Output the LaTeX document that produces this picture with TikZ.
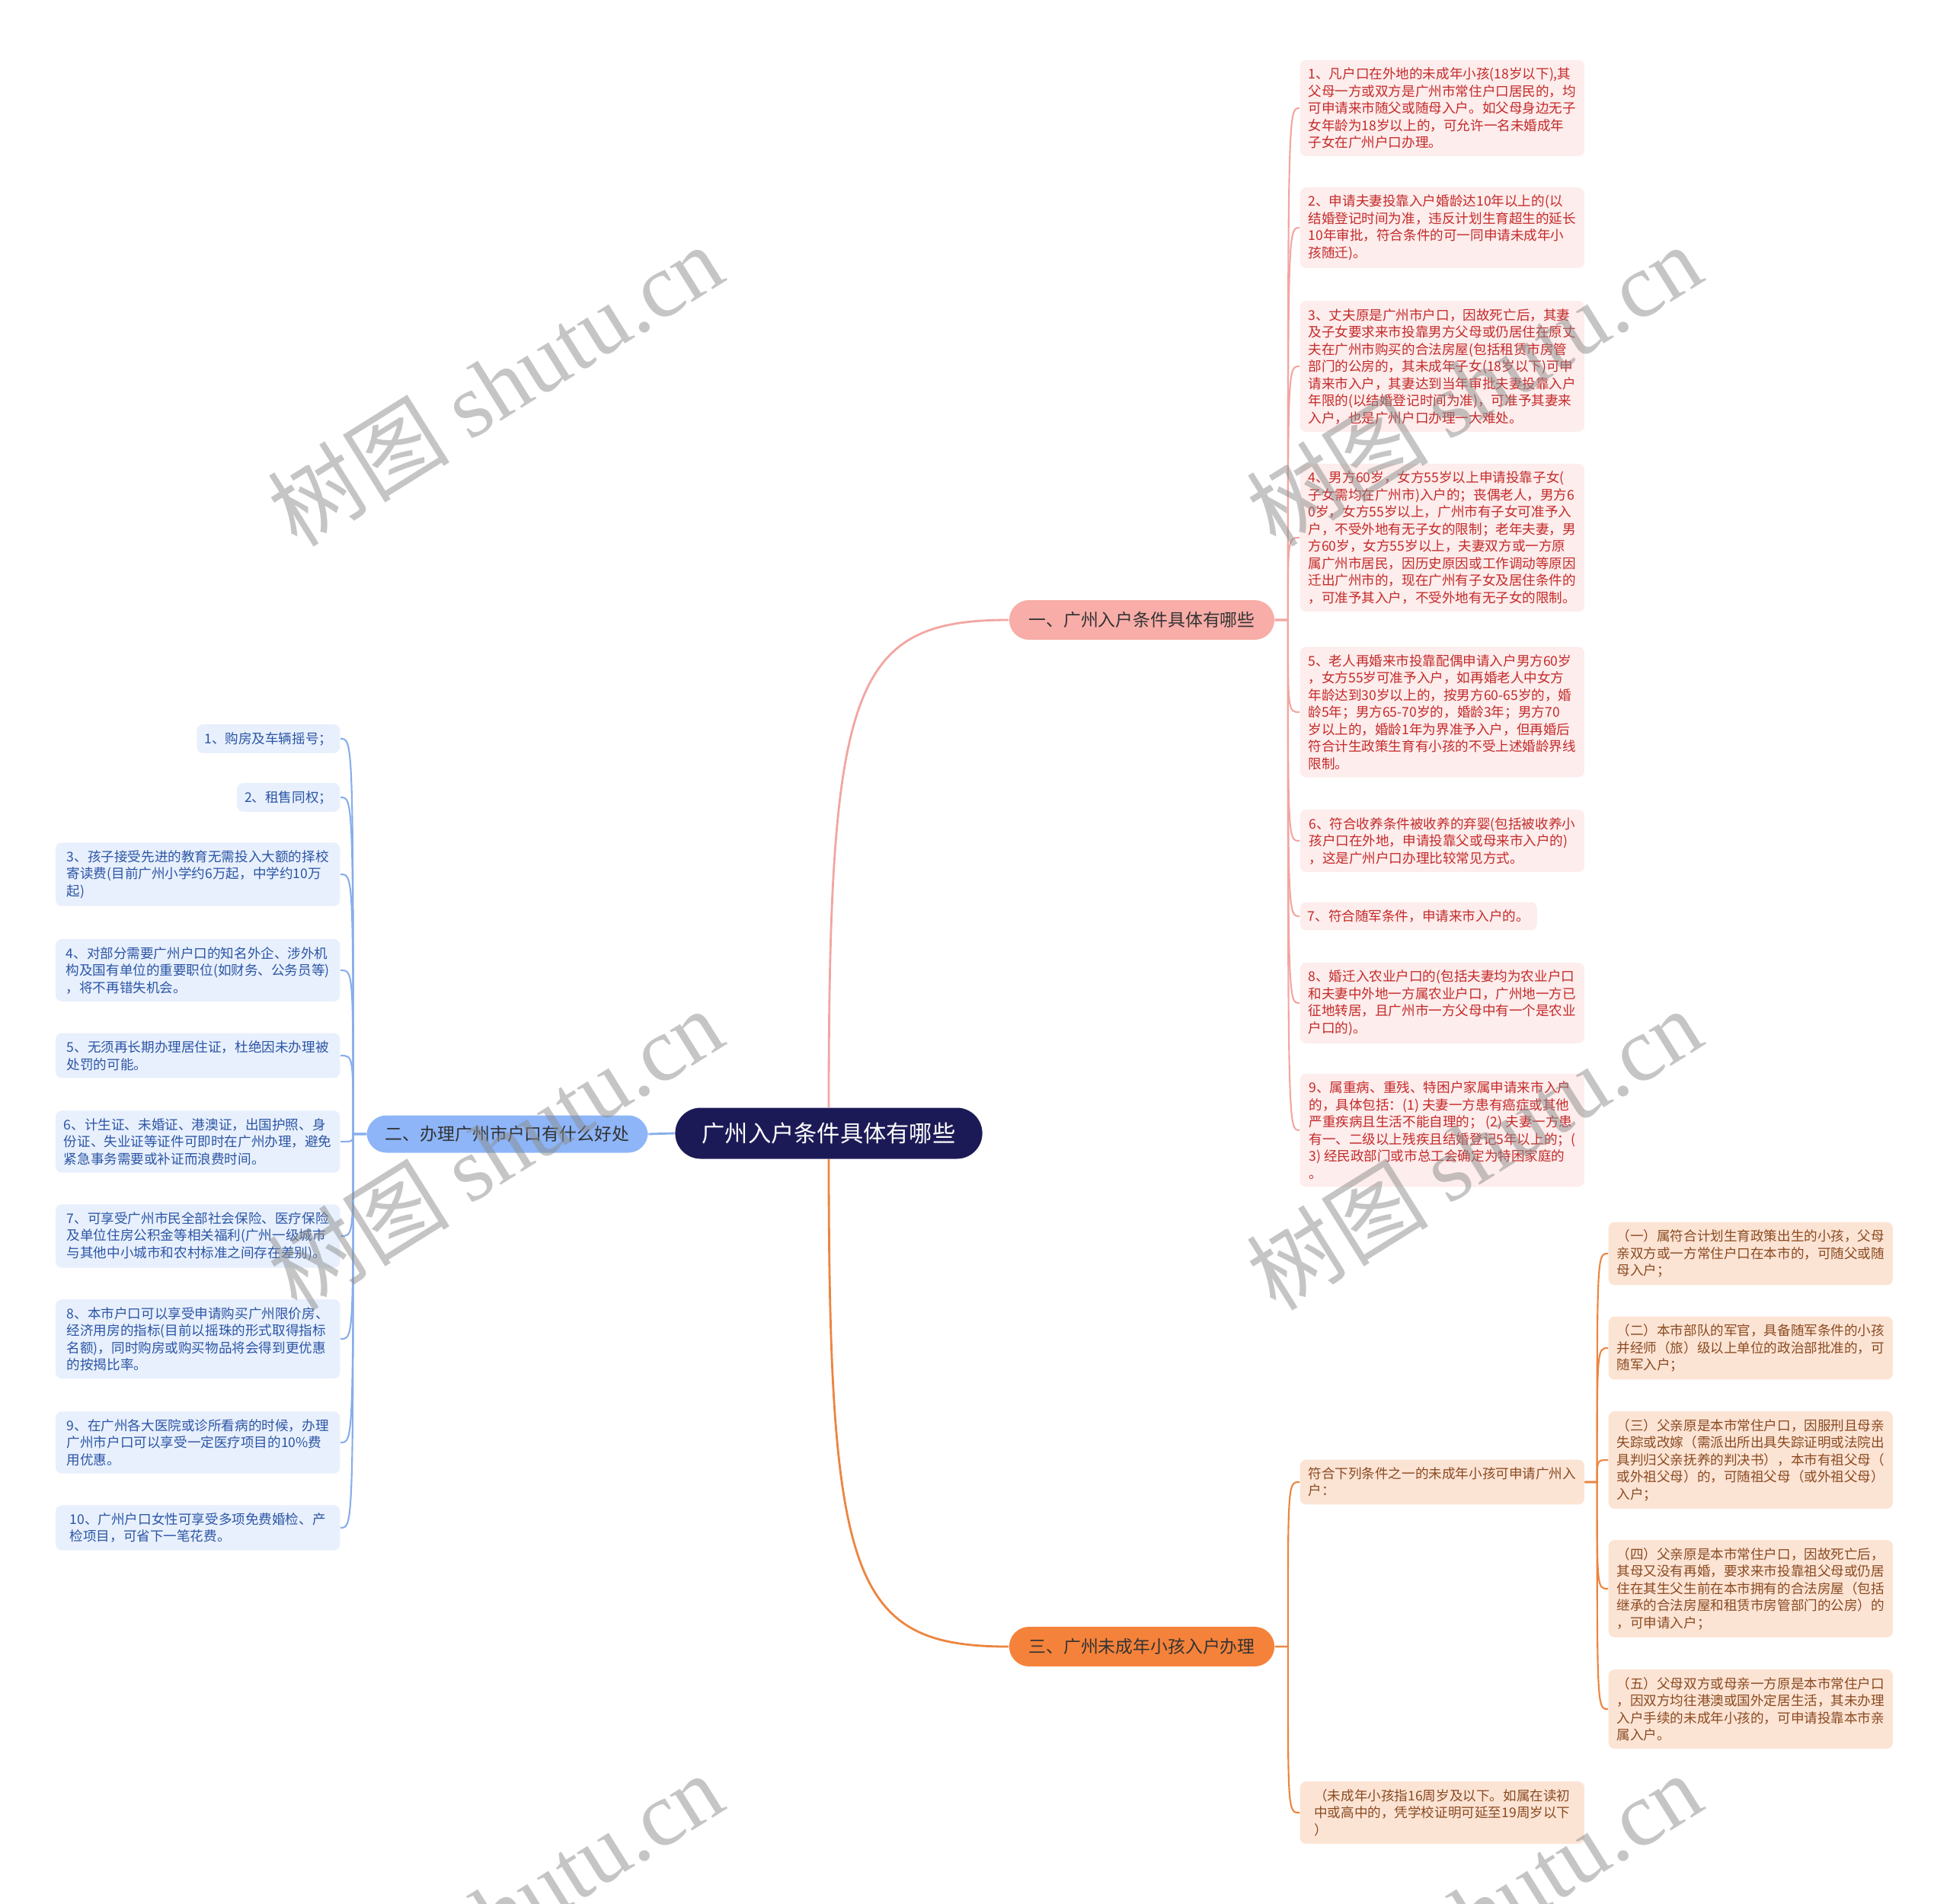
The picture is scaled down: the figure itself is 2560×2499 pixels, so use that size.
\documentclass[tikz,border=0pt]{standalone}
\usepackage{fontspec}
\setmainfont{Noto Sans CJK SC}
\newfontfamily\wmfont{Liberation Serif}

\definecolor{centrebg}{HTML}{1C1A56}
\definecolor{pinkhead}{HTML}{F8ADA8}
\definecolor{pinkbg}{HTML}{FDEDEC}
\definecolor{pinktext}{HTML}{C42A2A}
\definecolor{pinkedge}{HTML}{F2A6A1}
\definecolor{bluehead}{HTML}{8DB5F8}
\definecolor{bluebg}{HTML}{E8F0FD}
\definecolor{bluetext}{HTML}{2B55A5}
\definecolor{blueedge}{HTML}{88AEEA}
\definecolor{orangehead}{HTML}{F5823A}
\definecolor{orangebg}{HTML}{FCE4D5}
\definecolor{orangetext}{HTML}{8A4A20}
\definecolor{orangeedge}{HTML}{EC8540}

\tikzset{
  headbox/.style={rounded corners=0.26cm, minimum width=3.48cm, minimum height=0.52cm, inner sep=0pt, text=black!80, font=\fontsize{6.5}{8}\selectfont},
  itembox/.style={rounded corners=0.08cm, align=left, inner xsep=0.1cm, inner ysep=0.1cm, font=\fontsize{5}{6.4}\selectfont},
  wide/.style={minimum width=3.73cm},
  pinkitem/.style={itembox, fill=pinkbg, text=pinktext, anchor=west},
  blueitem/.style={itembox, fill=bluebg, text=bluetext, anchor=east},
  orangeitem/.style={itembox, fill=orangebg, text=orangetext, anchor=west, wide},
  pinkline/.style={draw=pinkedge, line width=0.6pt},
  blueline/.style={draw=blueedge, line width=0.6pt},
  orangeline/.style={draw=orangeedge, line width=0.6pt},
  wmark/.style={rotate=32, text=black!45, text opacity=0.5, font=\fontsize{34}{38}\selectfont}
}

\begin{document}
\begin{tikzpicture}[x=0.01cm, y=-0.01cm]
    \useasboundingbox (0,0) rectangle (2560,2499);

    % Centre
    \node[fill=centrebg, text=white, rounded corners=0.335cm, minimum width=4.03cm, minimum height=0.67cm, inner sep=0pt, font=\fontsize{8.6}{10}\selectfont] (centre) at (1088,1488) {广州入户条件具体有哪些};

    % Branches
    \node[headbox, fill=pinkhead] (b1) at (1499,814) {一、广州入户条件具体有哪些};
    \node[headbox, fill=bluehead, minimum width=3.69cm, minimum height=0.49cm] (b2) at (666,1489) {二、办理广州市户口有什么好处};
    \node[headbox, fill=orangehead] (b3) at (1499,2162) {三、广州未成年小孩入户办理};

    % Right items
    \node[pinkitem, wide] (r1) at (1706,142) {1、凡户口在外地的未成年小孩(18岁以下),其\\父母一方或双方是广州市常住户口居民的，均\\可申请来市随父或随母入户。如父母身边无子\\女年龄为18岁以上的，可允许一名未婚成年\\子女在广州户口办理。};
    \node[pinkitem, wide] (r2) at (1706,299) {2、申请夫妻投靠入户婚龄达10年以上的(以\\结婚登记时间为准，违反计划生育超生的延长\\10年审批，符合条件的可一同申请未成年小\\孩随迁)。};
    \node[pinkitem, wide] (r3) at (1706,481) {3、丈夫原是广州市户口，因故死亡后，其妻\\及子女要求来市投靠男方父母或仍居住在原丈\\夫在广州市购买的合法房屋(包括租赁市房管\\部门的公房的，其未成年子女(18岁以下)可申\\请来市入户，其妻达到当年审批夫妻投靠入户\\年限的(以结婚登记时间为准)，可准予其妻来\\入户，也是广州户口办理一大难处。};
    \node[pinkitem, wide] (r4) at (1706,706) {4、男方60岁，女方55岁以上申请投靠子女(\\子女需均在广州市)入户的；丧偶老人，男方6\\0岁，女方55岁以上，广州市有子女可准予入\\户，不受外地有无子女的限制；老年夫妻，男\\方60岁，女方55岁以上，夫妻双方或一方原\\属广州市居民，因历史原因或工作调动等原因\\迁出广州市的，现在广州有子女及居住条件的\\，可准予其入户，不受外地有无子女的限制。};
    \node[pinkitem, wide] (r5) at (1706,935) {5、老人再婚来市投靠配偶申请入户男方60岁\\，女方55岁可准予入户，如再婚老人中女方\\年龄达到30岁以上的，按男方60-65岁的，婚\\龄5年；男方65-70岁的，婚龄3年；男方70\\岁以上的，婚龄1年为界准予入户，但再婚后\\符合计生政策生育有小孩的不受上述婚龄界线\\限制。};
    \node[pinkitem, wide] (r6) at (1706,1104) {6、符合收养条件被收养的弃婴(包括被收养小\\孩户口在外地，申请投靠父或母来市入户的)\\，这是广州户口办理比较常见方式。};
    \node[pinkitem] (r7) at (1706,1203) {7、符合随军条件，申请来市入户的。};
    \node[pinkitem, wide] (r8) at (1706,1317) {8、婚迁入农业户口的(包括夫妻均为农业户口\\和夫妻中外地一方属农业户口，广州地一方已\\征地转居，且广州市一方父母中有一个是农业\\户口的)。};
    \node[pinkitem, wide] (r9) at (1706,1484) {9、属重病、重残、特困户家属申请来市入户\\的，具体包括：(1) 夫妻一方患有癌症或其他\\严重疾病且生活不能自理的； (2) 夫妻一方患\\有一、二级以上残疾且结婚登记5年以上的；(\\3) 经民政部门或市总工会确定为特困家庭的\\。};

    % Left items
    \node[blueitem] (l1) at (447,970) {1、购房及车辆摇号；};
    \node[blueitem] (l2) at (447,1047) {2、租售同权；};
    \node[blueitem, wide] (l3) at (447,1148) {3、孩子接受先进的教育无需投入大额的择校\\寄读费(目前广州小学约6万起，中学约10万\\起)};
    \node[blueitem, wide] (l4) at (447,1274) {4、对部分需要广州户口的知名外企、涉外机\\构及国有单位的重要职位(如财务、公务员等)\\，将不再错失机会。};
    \node[blueitem, wide] (l5) at (447,1386) {5、无须再长期办理居住证，杜绝因未办理被\\处罚的可能。};
    \node[blueitem, wide] (l6) at (447,1499) {6、计生证、未婚证、港澳证，出国护照、身\\份证、失业证等证件可即时在广州办理，避免\\紧急事务需要或补证而浪费时间。};
    \node[blueitem, wide] (l7) at (447,1623) {7、可享受广州市民全部社会保险、医疗保险\\及单位住房公积金等相关福利(广州一级城市\\与其他中小城市和农村标准之间存在差别)。};
    \node[blueitem, wide] (l8) at (447,1758) {8、本市户口可以享受申请购买广州限价房、\\经济用房的指标(目前以摇珠的形式取得指标\\名额)，同时购房或购买物品将会得到更优惠\\的按揭比率。};
    \node[blueitem, wide] (l9) at (447,1894) {9、在广州各大医院或诊所看病的时候，办理\\广州市户口可以享受一定医疗项目的10\%费\\用优惠。};
    \node[blueitem, wide] (l10) at (447,2006) {10、广州户口女性可享受多项免费婚检、产\\检项目，可省下一笔花费。};

    % Lower right items
    \node[orangeitem] (m1) at (1706,1946) {符合下列条件之一的未成年小孩可申请广州入\\户：};
    \node[orangeitem] (m2) at (1706,2380) {（未成年小孩指16周岁及以下。如属在读初\\中或高中的，凭学校证明可延至19周岁以下\\）};
    \node[orangeitem] (g1) at (2111,1646) {（一）属符合计划生育政策出生的小孩，父母\\亲双方或一方常住户口在本市的，可随父或随\\母入户；};
    \node[orangeitem] (g2) at (2111,1770) {（二）本市部队的军官，具备随军条件的小孩\\并经师（旅）级以上单位的政治部批准的，可\\随军入户；};
    \node[orangeitem] (g3) at (2111,1917) {（三）父亲原是本市常住户口，因服刑且母亲\\失踪或改嫁（需派出所出具失踪证明或法院出\\具判归父亲抚养的判决书），本市有祖父母（\\或外祖父母）的，可随祖父母（或外祖父母）\\入户；};
    \node[orangeitem] (g4) at (2111,2086) {（四）父亲原是本市常住户口，因故死亡后，\\其母又没有再婚，要求来市投靠祖父母或仍居\\住在其生父生前在本市拥有的合法房屋（包括\\继承的合法房屋和租赁市房管部门的公房）的\\，可申请入户；};
    \node[orangeitem] (g5) at (2111,2244) {（五）父母双方或母亲一方原是本市常住户口\\，因双方均往港澳或国外定居生活，其未办理\\入户手续的未成年小孩的，可申请投靠本市亲\\属入户。};

    % Main connectors
    \draw[pinkline, line width=0.8pt] (centre.north) .. controls ([yshift=5.55cm]centre.north) and ([xshift=-2.05cm]b1.west) .. (b1.west);
    \draw[orangeline, line width=0.8pt] (centre.south) .. controls ([yshift=-5.55cm]centre.south) and ([xshift=-2.05cm]b3.west) .. (b3.west);
    \draw[blueline, line width=0.8pt] (centre.west) -- (b2.east);

    % Spines
    \coordinate (b1s) at ([xshift=0.17cm]b1.east);
    \coordinate (b2s) at ([xshift=-0.17cm]b2.west);
    \coordinate (b3s) at ([xshift=0.17cm]b3.east);
    \coordinate (m1s) at ([xshift=0.16cm]m1.east);
    \foreach \n in {1,...,9}
        \draw[pinkline] (b1.east) -- (b1s) .. controls (b1s |- r\n.west) .. (r\n.west);
    \foreach \n in {1,...,10}
        \draw[blueline] (b2.west) -- (b2s) .. controls (b2s |- l\n.east) .. (l\n.east);
    \foreach \n in {1,2}
        \draw[orangeline] (b3.east) -- (b3s) .. controls (b3s |- m\n.west) .. (m\n.west);
    \foreach \n in {1,...,5}
        \draw[orangeline] (m1.east) -- (m1s) .. controls (m1s |- g\n.west) .. (g\n.west);

    % Watermarks
    \node[wmark] (w1) at (650,505) {树图 {\wmfont shutu.cn}};
    \node[wmark] (w2) at (1935,505) {树图 {\wmfont shutu.cn}};
    \node[wmark] (w3) at (650,1508) {树图 {\wmfont shutu.cn}};
    \node[wmark] (w4) at (1935,1508) {树图 {\wmfont shutu.cn}};
    \node[wmark] (w5) at (650,2512) {树图 {\wmfont shutu.cn}};
    \node[wmark] (w6) at (1935,2512) {树图 {\wmfont shutu.cn}};
\end{tikzpicture}
\end{document}
